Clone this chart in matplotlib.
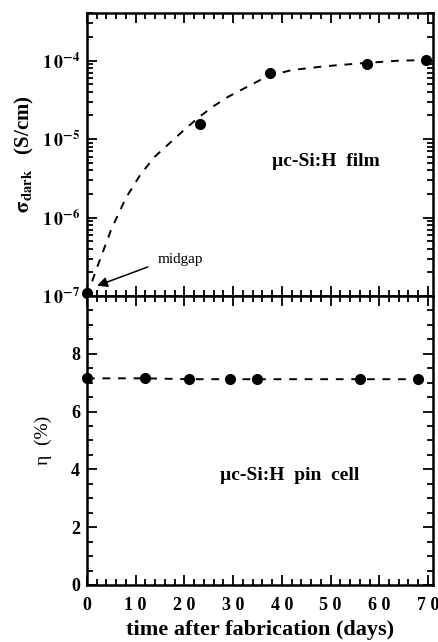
import matplotlib
matplotlib.use("Agg")
import matplotlib.pyplot as plt
from matplotlib.ticker import MultipleLocator, LogLocator, NullFormatter

# dark conductivity of the film, measured points
film_days = [0, 23.3, 37.5, 57.5, 69.6]
film_sigma = [1.1e-7, 1.55e-5, 6.9e-5, 9.1e-5, 1.02e-4]

# dashed guide curve (day, log10 sigma)
guide_days = [0, 2, 5, 8, 11, 14, 17, 20, 23, 26, 29, 33, 37, 42, 49, 57, 64, 71]
guide_log = [-7.0, -6.65, -6.15, -5.75, -5.45, -5.22, -5.05, -4.88, -4.72,
             -4.58, -4.46, -4.33, -4.2, -4.12, -4.07, -4.03, -4.0, -3.99]

# cell efficiency
cell_days = [0, 12, 21, 29.4, 35, 56, 68]
cell_eta = [7.15, 7.15, 7.12, 7.12, 7.12, 7.12, 7.12]

x_ticks = [0, 10, 20, 30, 40, 50, 60, 70]
x_tick_labels = ["0", "1 0", "2 0", "3 0", "4 0", "5 0", "6 0", "7 0"]
sig_ticks = [1e-7, 1e-6, 1e-5, 1e-4]
sig_tick_labels = [r"$\mathbf{1\,0^{-7}}$", r"$\mathbf{1\,0^{-6}}$",
                   r"$\mathbf{1\,0^{-5}}$", r"$\mathbf{1\,0^{-4}}$"]
eta_ticks = [0, 2, 4, 6, 8, 10]
eta_tick_labels = ["0", "2", "4", "6", "8", ""]

plt.rcParams["font.family"] = ["Liberation Serif", "DejaVu Serif"]
plt.rcParams["font.weight"] = "bold"
plt.rcParams["mathtext.fontset"] = "stix"


def main():
    fig = plt.figure(figsize=(4.39, 6.42), dpi=100)
    ax1 = fig.add_axes([0.198, 0.539, 0.788, 0.441])
    ax2 = fig.add_axes([0.198, 0.0888, 0.788, 0.4502])

    # upper panel
    guide_sigma = [10 ** v for v in guide_log]
    ax1.plot(guide_days, guide_sigma, "k--", lw=1.4, dashes=(4, 4))
    ax1.plot(film_days, film_sigma, "o", color="black", ms=7, clip_on=False)
    ax1.set_yscale("log")
    ax1.set_xlim(0, 71)
    ax1.set_ylim(1e-7, 10 ** -3.39)
    ax1.set_yticks(sig_ticks)
    ax1.set_yticklabels(sig_tick_labels, fontsize=13)
    ax1.yaxis.set_minor_locator(LogLocator(base=10, subs=range(2, 10)))
    ax1.yaxis.set_minor_formatter(NullFormatter())
    ax1.set_xticks(x_ticks)
    ax1.set_xticklabels([])
    ax1.xaxis.set_minor_locator(MultipleLocator(2))
    ax1.set_ylabel(r"$\mathbf{\sigma_{dark}}$   (S/cm)", fontsize=15,
                   fontweight="bold", labelpad=4)
    ax1.text(0.69, 0.475, "\u00b5c-Si:H  film", transform=ax1.transAxes,
             ha="center", va="center", fontsize=14, fontweight="bold")
    ax1.text(14.5, 10 ** -6.54, "midgap", fontsize=11, fontweight="normal",
             va="center", ha="left")
    ax1.annotate("", xy=(2.1, 10 ** -6.87), xytext=(12.5, 10 ** -6.63),
                 arrowprops=dict(arrowstyle="-|>", color="black", lw=1.1,
                                 mutation_scale=15, shrinkA=0, shrinkB=0))

    # lower panel
    ax2.plot(cell_days, cell_eta, "o--", color="black", ms=7, lw=1.4,
             dashes=(4, 4), clip_on=False)
    ax2.set_xlim(0, 71)
    ax2.set_ylim(0, 10)
    ax2.set_xticks(x_ticks)
    ax2.set_xticklabels(x_tick_labels, fontsize=13)
    ax2.xaxis.set_minor_locator(MultipleLocator(2))
    ax2.set_yticks(eta_ticks)
    ax2.set_yticklabels(eta_tick_labels, fontsize=13)
    ax2.yaxis.set_minor_locator(MultipleLocator(0.5))
    ax2.set_ylabel("\u03b7  (%)", fontsize=14, fontweight="normal", labelpad=14)
    ax2.set_xlabel("time after fabrication (days)", fontsize=16,
                   fontweight="bold", labelpad=4)
    ax2.text(0.587, 0.38, "\u00b5c-Si:H  pin  cell", transform=ax2.transAxes,
             ha="center", va="center", fontsize=14, fontweight="bold")

    for ax in (ax1, ax2):
        for sp in ax.spines.values():
            sp.set_linewidth(1.8)
        ax.tick_params(which="both", direction="in", top=True, right=True,
                       width=1.3, pad=5)
        ax.tick_params(which="major", length=7)
        ax.tick_params(which="minor", length=4)
    ax2.tick_params(axis="x", which="both", pad=9)

    fig.savefig("out.png", dpi=100)


if __name__ == "__main__":
    main()
